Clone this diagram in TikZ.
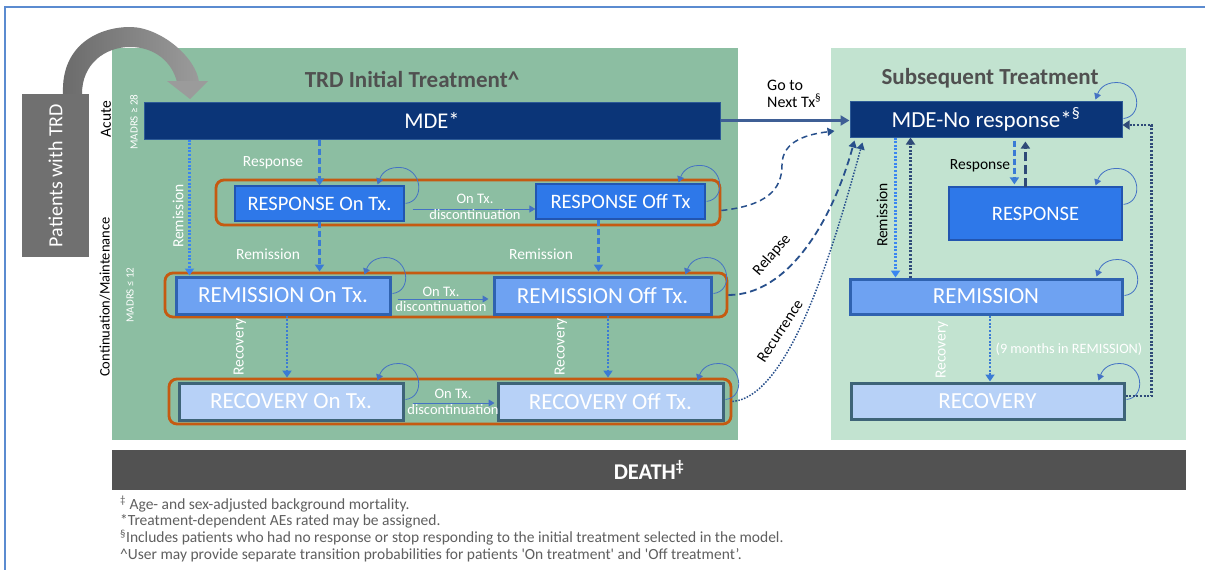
\documentclass[tikz,border=0pt]{standalone}
\usepackage{fontspec}
\setmainfont{Carlito}
\usetikzlibrary{arrows.meta,calc}
\definecolor{lgreen}{RGB}{140,190,162}
\definecolor{pgreen}{RGB}{194,227,208}
\definecolor{navy}{RGB}{11,53,120}
\definecolor{navyb}{RGB}{45,90,150}
\definecolor{bblue}{RGB}{46,120,233}
\definecolor{bbord}{RGB}{34,85,176}
\definecolor{mblue}{RGB}{110,162,242}
\definecolor{mbord}{RGB}{47,98,176}
\definecolor{lblue}{RGB}{183,209,247}
\definecolor{lbord}{RGB}{62,100,120}
\definecolor{orng}{RGB}{197,90,17}
\definecolor{dgrey}{RGB}{82,82,82}
\definecolor{pgrey}{RGB}{112,112,112}
\definecolor{loopc}{RGB}{68,114,196}
\definecolor{arrb}{RGB}{58,123,213}
\definecolor{dotb}{RGB}{59,134,240}
\definecolor{dnavy}{RGB}{47,74,120}
\definecolor{dashn}{RGB}{40,80,140}
\definecolor{ftext}{RGB}{95,95,95}
\definecolor{titlec}{RGB}{80,80,80}
\definecolor{framec}{RGB}{91,139,208}
\definecolor{goarr}{RGB}{63,95,149}
\newcommand\selfloop[1]{\draw[loopline] ($(#1.north east)+(1,18)$) .. controls +(20,-2) and +(24,0) .. ($(#1.north east)+(-6,-18)$) .. controls +(-14,0) and +(3,-8) .. ($(#1.north east)+(-27,-1)$);}
\begin{document}
\begin{tikzpicture}[x=1pt,y=-1pt,
  fs/.style={font=\fontsize{#1}{#1}\selectfont},
  panel/.style={draw=none, inner sep=0pt},
  statebox/.style={draw, inner sep=0pt, text=white, fs=20.5},
  bigtxt/.style={fs=23},
  orect/.style={draw=orng, line width=2.8pt, rounded corners=8pt, inner sep=0pt},
  loopline/.style={draw=loopc, line width=0.8pt, -{Triangle[length=6pt,width=7pt]}},
  thinarr/.style={draw=loopc, line width=1pt, -{Triangle[length=6pt,width=7pt]}},
  dasharr/.style={line width=2.5pt, dash pattern=on 6pt off 3pt, -{Triangle[length=7pt,width=9pt]}},
  dotarr/.style={line width=2.5pt, dash pattern=on 2pt off 1.6pt, -{Triangle[length=7pt,width=9pt]}},
  wlab/.style={text=white, fs=15.5, inner sep=1pt},
  blab/.style={text=black, fs=15.5, inner sep=1pt},
  dlab/.style={text=white, fs=14.5, inner sep=1pt},
  foot/.style={text=ftext, fs=15.5, anchor=west, inner sep=0pt}]
\useasboundingbox (0,0) rectangle (1205,570);
\fill[white] (0,0) rectangle (1205,570);
% outer frame
\draw[framec, line width=1.5pt] (5,575) -- (5,7) -- (1210,7);

% panels
\node[panel, fill=lgreen, minimum width=626pt, minimum height=392pt] (lp) at (425,244) {};
\node[panel, fill=pgreen, minimum width=355pt, minimum height=392pt] (rp) at (1008.5,244) {};
\node[panel, fill=dgrey, minimum width=1074pt, minimum height=40pt, text=white, font=\bfseries\fontsize{22.5}{22.5}\selectfont] (death) at (649,470) {DEATH\textsuperscript{‡}};

% patients box
\node[panel, fill=pgrey, minimum width=67pt, minimum height=163pt] (pat) at (55.5,175.5) {};
\node[rotate=90, text=white, fs=20] (pattxt) at (pat.center) {Patients with TRD};

% grey curved arrow
\shade[left color=pgrey!95!black, right color=pgrey!70!white]
  ($(pat.north)+(7.5,0)$) .. controls +(-2,-50) and +(-30,0) .. (130,27)
  .. controls +(30,0) and +(-3,-25) .. (199,82) -- (177,82)
  .. controls +(-5,-20) and +(25,0) .. (130,47)
  .. controls +(-25,0) and +(0,-30) .. ($(pat.north)+(26.5,0)$) -- cycle;
\fill[pgrey!70!white] (167,81) -- (208,81) -- (190,99) -- cycle;

% titles
\node[text=titlec, font=\bfseries\fontsize{23}{23}\selectfont] (t1) at (412,79) {TRD Initial Treatment\^{}};
\node[text=titlec, font=\bfseries\fontsize{23}{23}\selectfont] (t2) at (990,78) {Subsequent Treatment};

% side labels
\node[rotate=90, blab, fs=15.5] (acute) at (106,119) {Acute};
\node[rotate=90, wlab, fs=11] (madrs1) at (134,122) {MADRS ≥ 28};
\node[rotate=90, blab, fs=14.5] (cont) at (105,297) {Continuation/Maintenance};
\node[rotate=90, wlab, fs=11] (madrs2) at (130,295) {MADRS ≤ 12};

% orange groups
\node[orect, minimum width=504pt, minimum height=45pt] (o1) at (468,202.5) {};
\node[orect, minimum width=562pt, minimum height=44pt] (o2) at (446,295) {};
\node[orect, minimum width=562pt, minimum height=45pt] (o3) at (450,401.5) {};

% left states
\node[statebox, fill=navy, draw=navyb, line width=1pt, minimum width=576pt, minimum height=37pt, fs=22.5] (mde) at (432,120.5) {MDE*};
\node[statebox, fill=bblue, draw=bbord, line width=1.2pt, minimum width=169pt, minimum height=35pt] (respon) at (319.5,203.5) {RESPONSE On Tx.};
\node[statebox, fill=bblue, draw=bbord, line width=1.2pt, minimum width=169pt, minimum height=35pt] (respoff) at (620.5,201.5) {RESPONSE Off Tx};
\node[statebox, bigtxt, fill=mblue, draw=mbord, line width=3pt, minimum width=214pt, minimum height=37pt] (remon) at (283,295.5) {REMISSION On Tx.};
\node[statebox, bigtxt, fill=mblue, draw=mbord, line width=3pt, minimum width=217pt, minimum height=37pt] (remoff) at (602.5,295.5) {REMISSION Off Tx.};
\node[statebox, bigtxt, fill=lblue, draw=lbord, line width=3pt, minimum width=224pt, minimum height=37pt] (recon) at (291,401.5) {RECOVERY On Tx.};
\node[statebox, bigtxt, fill=lblue, draw=lbord, line width=3pt, minimum width=225pt, minimum height=37pt] (recoff) at (610.5,401.5) {RECOVERY Off Tx.};

% right states
\node[statebox, fill=navy, draw=navyb, line width=1pt, minimum width=272pt, minimum height=36pt, fs=23] (mdenr) at (986,119) {MDE-No response*\textsuperscript{§}};
\node[statebox, fill=bblue, draw=bbord, line width=1.2pt, minimum width=173pt, minimum height=53pt] (resp2) at (1035.5,213.5) {RESPONSE};
\node[statebox, bigtxt, fill=mblue, draw=mbord, line width=3pt, minimum width=272pt, minimum height=35pt] (rem2) at (986,296.5) {REMISSION};
\node[statebox, bigtxt, fill=lblue, draw=lbord, line width=3pt, minimum width=273pt, minimum height=36pt] (rec2) at (987.5,401) {RECOVERY};

% self loops
\selfloop{respon}
\selfloop{respoff}
\selfloop{remon}
\selfloop{remoff}
\selfloop{recon}
\selfloop{recoff}
\selfloop{mdenr}
\selfloop{resp2}
\selfloop{rem2}
\selfloop{rec2}

% discontinuation arrows
\draw[thinarr] ([xshift=8pt,yshift=-5.5pt]respon.east) -- ([yshift=-7.5pt]respoff.west);
\draw[thinarr] ([xshift=6pt,yshift=-3.5pt]remon.east) -- ([xshift=-4pt,yshift=-3.5pt]remoff.west);
\draw[thinarr] ([xshift=8pt,yshift=-1.5pt]recon.east) -- ([xshift=-2pt,yshift=-1.5pt]recoff.west);
\node[dlab] (d1a) at (475,199) {On Tx.};
\node[dlab] (d1b) at (475,215) {discontinuation};
\node[dlab] (d2a) at (441,292) {On Tx.};
\node[dlab] (d2b) at (441,307) {discontinuation};
\node[dlab] (d3a) at (453,394) {On Tx.};
\node[dlab] (d3b) at (453,410) {discontinuation};

% vertical arrows left
\draw[dotarr, dotb] ([xshift=15pt]remon.north west |- mde.south) -- ([xshift=15pt]remon.north west);
\draw[dasharr, arrb] (respon.north |- mde.south) -- (respon.north);
\draw[dasharr, arrb] (respon.south) -- (respon.south |- o2.north);
\draw[dasharr, arrb] ([xshift=-22pt]respoff.south) -- ([xshift=-22pt]respoff.south |- o2.north);
\draw[dotarr, arrb] ([xshift=4pt]remon.south) -- ([xshift=4pt]remon.south |- o3.north);
\draw[dotarr, arrb] ([xshift=5.5pt]remoff.south) -- ([xshift=5.5pt]remoff.south |- o3.north);
\node[wlab, rotate=90] (l1) at (178,216) {Remission};
\node[wlab] (l2) at (273,163) {Response};
\node[wlab] (l3) at (268,254) {Remission};
\node[wlab] (l4) at (541,254) {Remission};
\node[wlab, rotate=90] (l5) at (240,347) {Recovery};
\node[wlab, rotate=90] (l6) at (561,347) {Recovery};

% right arrows
\draw[dotarr, dotb] ([xshift=46pt]mdenr.south west) -- ([xshift=46pt]mdenr.south west |- rem2.north);
\draw[dotarr, dnavy] ([xshift=62pt]rem2.north west) -- ([xshift=62pt]rem2.north west |- mdenr.south);
\draw[dasharr, arrb] ([xshift=66pt,yshift=-3pt]mdenr.south west -| resp2.west) -- ([xshift=66pt,yshift=2pt]resp2.north west);
\draw[line width=2.5pt, dash pattern=on 9pt off 4pt, dnavy, -{Triangle[length=7pt,width=9pt]}] ([xshift=77pt,yshift=-1pt]resp2.north west) -- ([xshift=77pt,yshift=-4pt]resp2.north west |- mdenr.south);
\draw[dotarr, arrb] ([xshift=4pt]rem2.south) -- ([xshift=4pt]rem2.south |- rec2.north);
\draw[line width=2.5pt, dash pattern=on 2pt off 1.6pt, dnavy, -{Triangle[length=7pt,width=9pt]}] ([yshift=5pt]rec2.east) -- ++(26,0) |- ([yshift=-6pt]mdenr.east);
\node[blab, rotate=90] (l7) at (882,215) {Remission};
\node[blab] (l8) at (980,166) {Response};
\node[wlab, rotate=90] (l9) at (942,350) {Recovery};
\node[wlab, fs=14.3] (l10) at (1069,349) {(9 months in REMISSION)};

% between panels
\draw[goarr, line width=2.5pt, -{Triangle[length=9pt,width=10pt]}] (mde.east) -- (mde.east -| mdenr.west);
\node[blab, align=left, anchor=west, fs=16] (go) at (766,94) {Go to\\[1pt]Next Tx\textsuperscript{§}};
\coordinate (rsend) at ($(mdenr.west)+(-15,12)$);
\coordinate (rlend) at ($(mdenr.south west)+(5,3)$);
\coordinate (rcend) at ($(mdenr.south west)+(13,5)$);
\draw[dashn, line width=1.5pt, dash pattern=on 6pt off 4pt, -{Triangle[length=7pt,width=8pt]}] ([yshift=-8pt]o1.east) .. controls +(45,-5) and +(0,25) .. (782,165) .. controls +(0,-25) and +(-25,3) .. (rsend);
\draw[dashn, line width=1.8pt, dash pattern=on 7pt off 4pt, -{Triangle[length=7pt,width=8pt]}] (o2.east) .. controls +(60,0) and +(-22,80) .. (rlend);
\draw[dashn, line width=1.5pt, dash pattern=on 1.5pt off 1.5pt, -{Triangle[length=7pt,width=8pt]}] (o3.east) .. controls +(60,-5) and +(-25,90) .. (rcend);
\node[blab, rotate=49] (rel) at (772,255) {Relapse};
\node[blab, rotate=57] (rec) at (780,331) {Recurrence};

% footnotes
\node[foot] (f1) at (120,504) {\textsuperscript{‡} Age- and sex-adjusted background mortality.};
\node[foot] (f2) at (120,521) {*Treatment-dependent AEs rated may be assigned.};
\node[foot] (f3) at (120,538) {\textsuperscript{§}Includes patients who had no response or stop responding to the initial treatment selected in the model.};
\node[foot] (f4) at (120,555) {\^{}User may provide separate transition probabilities for patients \textquotesingle On treatment\textquotesingle\ and \textquotesingle Off treatment’.};
\end{tikzpicture}
\end{document}
